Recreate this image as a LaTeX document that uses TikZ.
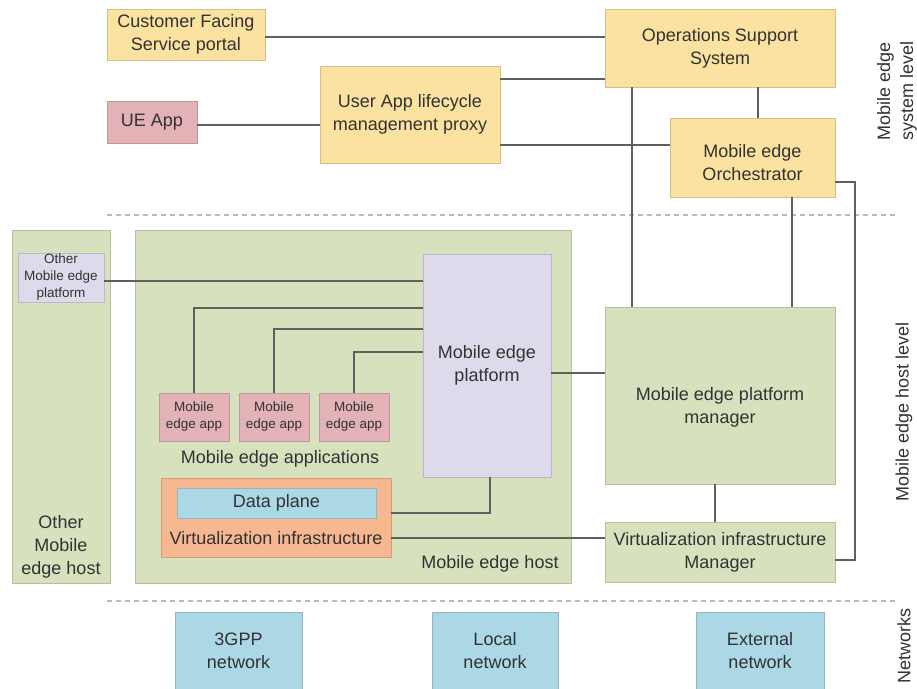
\documentclass[tikz,border=0pt]{standalone}
\usepackage{fontspec}
\setmainfont{Liberation Sans}
\usetikzlibrary{positioning}
\definecolor{sysyel}{RGB}{252,226,160}
\definecolor{uepink}{RGB}{226,178,182}
\definecolor{hostgreen}{RGB}{215,225,190}
\definecolor{platlav}{RGB}{222,217,235}
\definecolor{virtsalmon}{RGB}{247,184,145}
\definecolor{netblue}{RGB}{172,215,228}
\definecolor{ink}{RGB}{50,50,50}
\definecolor{wiregray}{RGB}{95,95,95}

\begin{document}
\begin{tikzpicture}[x=1pt,y=-1pt,
  box/.style={draw=#1!85!black, line width=.5pt, fill=#1, text=ink, align=center,
    inner sep=2pt, font=\fontsize{18}{23}\selectfont},
  sz/.style 2 args={minimum width=#1pt, minimum height=#2pt},
  small/.style={font=\fontsize{13.5}{17}\selectfont},
  lbl/.style={text=ink, align=center, font=\fontsize{18}{23}\selectfont},
  wire/.style={draw=wiregray, line width=1.1pt},
  sep/.style={draw=black!28, line width=1.1pt, dash pattern=on 5pt off 4pt}]
\useasboundingbox (0,0) rectangle (917,688);

% system level
\node[box=sysyel, sz={158}{51}] (cfs) at (186,34.5) {Customer Facing\\Service portal};
\node[box=sysyel, sz={230}{78}] (oss) at (720,48) {Operations Support\\System};
\node[box=uepink, sz={90}{42}] (ue) at (152,122) {UE App};
\node[box=sysyel, sz={180}{97}] (proxy) at (410,114.5) {User App lifecycle\\management proxy};
\node[box=sysyel, sz={165}{79}] (orch) at (752.5,157.5) {};
\node[lbl] (orchlbl) at (752.5,163) {Mobile edge\\Orchestrator};

\draw[sep] (107,215) -- (895,215);
\draw[sep] (107,601) -- (895,601);

% host level
\node[box=hostgreen, sz={98}{353}] (otherhost) at (61,406.5) {};
\node[lbl] (otherhostlbl) at (61,547) {Other\\Mobile\\edge host};
\node[box=platlav, sz={86}{49}, small, inner sep=1pt] (otherplat) at (61,277.5) {Other\\Mobile edge\\platform};
\node[box=hostgreen, sz={436}{353}] (mehost) at (353,406.5) {};
\node[lbl] (mehostlbl) at (490,564) {Mobile edge host};
\node[box=platlav, sz={128}{223}] (mep) at (487,365.5) {Mobile edge\\platform};
\foreach \x [count=\i] in {194,274,354}{
  \node[box=uepink, sz={70}{48}, small] (app\i) at (\x,417) {Mobile\\edge app};
}
\node[lbl] (appslbl) at (280,459) {Mobile edge applications};
\node[box=virtsalmon, sz={230}{79}] (vi) at (276,517.5) {};
\node[box=netblue, sz={199}{30}] (dp) at (276.5,503) {Data plane};
\node[lbl] (vilbl) at (276,538) {Virtualization infrastructure};
\node[box=hostgreen, sz={230}{177}] (mepm) at (720,395.5) {};
\node[lbl] (mepmlbl) at (720,407) {Mobile edge platform\\manager};
\node[box=hostgreen, sz={230}{60}] (vim) at (720,552) {Virtualization infrastructure\\Manager};

% networks
\node[box=netblue, sz={127}{77}] (net3gpp) at (238.5,651) {3GPP\\network};
\node[box=netblue, sz={126}{77}] (netlocal) at (495,651) {Local\\network};
\node[box=netblue, sz={128}{77}] (netext) at (760,651) {External\\network};

% level labels
\node[lbl, rotate=90] (syslvl) at (897,91) {Mobile edge\\system level};
\node[lbl, rotate=90] (hostlvl) at (904,412) {Mobile edge host level};
\node[lbl, rotate=90] (netlvl) at (904,646) {Networks};

% connectors
\draw[wire] (cfs.east |- 0,37) -- (oss.west |- 0,37);
\draw[wire] (ue.east |- 0,125) -- (proxy.west |- 0,125);
\draw[wire] (proxy.east |- 0,79) -- (oss.west |- 0,79);
\draw[wire] (proxy.east |- 0,145) -- (orch.west |- 0,145);
\draw[wire] (oss.south -| 758,0) -- (orch.north -| 758,0);
\draw[wire] (oss.south -| 632,0) -- (mepm.north -| 632,0);
\draw[wire] (orch.south -| 792,0) -- (mepm.north -| 792,0);
\draw[wire] (orch.east |- 0,182) -| (855,560) -- (vim.east |- 0,560);
\draw[wire] (mepm.south -| 715,0) -- (vim.north -| 715,0);
\draw[wire] (mep.east |- 0,373) -- (mepm.west |- 0,373);
\draw[wire] (vi.east |- 0,538) -- (vim.west |- 0,538);
\draw[wire] (vi.east |- 0,513) -| (mep.south -| 490,0);
\draw[wire] (otherplat.east |- 0,281) -- (mep.west |- 0,281);
\foreach \i/\y in {1/308,2/329,3/352}{
  \draw[wire] (app\i.north) |- (mep.west |- 0,\y);
}
\end{tikzpicture}
\end{document}
